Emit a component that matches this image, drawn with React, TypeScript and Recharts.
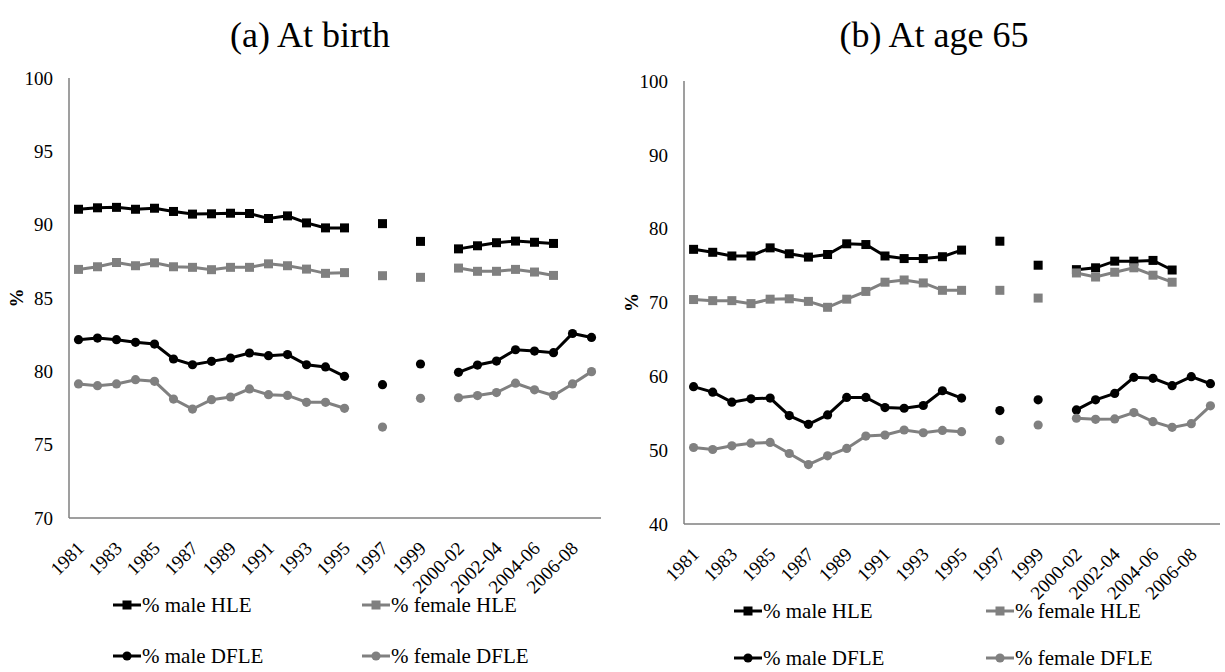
import React from "react";
import { LineChart, Line, XAxis, YAxis, Legend } from "recharts";

// category axis: 1981..1999, one unlabeled slot, then 3-year rolling periods
const years = [
  "1981", "1982", "1983", "1984", "1985", "1986", "1987", "1988", "1989", "1990",
  "1991", "1992", "1993", "1994", "1995", "1996", "1997", "1998", "1999", "",
  "2000-02", "2001-03", "2002-04", "2003-05", "2004-06", "2005-07", "2006-08", "2007-09",
];

// (a) at birth
const maleHLEBirth = [
  91.05, 91.15, 91.18, 91.05, 91.12, 90.9, 90.72, 90.74, 90.78, 90.76,
  90.42, 90.6, 90.12, 89.78, 89.78, null, 90.07, null, 88.86, null,
  88.35, 88.56, 88.77, 88.88, 88.8, 88.72, null, null,
];
const femaleHLEBirth = [
  86.95, 87.13, 87.42, 87.2, 87.4, 87.13, 87.09, 86.93, 87.09, 87.09,
  87.33, 87.2, 86.97, 86.68, 86.73, null, 86.52, null, 86.41, null,
  87.04, 86.82, 86.82, 86.95, 86.77, 86.54, null, null,
];
const maleDFLEBirth = [
  82.16, 82.27, 82.16, 81.98, 81.86, 80.84, 80.45, 80.68, 80.91, 81.25,
  81.07, 81.14, 80.45, 80.3, 79.66, null, 79.09, null, 80.5, null,
  79.93, 80.43, 80.7, 81.47, 81.38, 81.27, 82.58, 82.31,
];
const femaleDFLEBirth = [
  79.14, 79.02, 79.14, 79.43, 79.32, 78.11, 77.43, 78.07, 78.25, 78.8,
  78.41, 78.36, 77.89, 77.89, 77.48, null, 76.2, null, 78.16, null,
  78.2, 78.35, 78.55, 79.19, 78.74, 78.35, 79.14, 79.98,
];

// (b) at age 65
const maleHLE65 = [
  77.2, 76.8, 76.3, 76.3, 77.4, 76.6, 76.15, 76.5, 77.95, 77.85,
  76.3, 75.95, 75.95, 76.2, 77.1, null, 78.3, null, 75.05, null,
  74.45, 74.7, 75.6, 75.6, 75.7, 74.4, null, null,
];
const femaleHLE65 = [
  70.4, 70.25, 70.25, 69.85, 70.45, 70.5, 70.15, 69.35, 70.45, 71.5,
  72.75, 73.05, 72.65, 71.65, 71.65, null, 71.65, null, 70.6, null,
  74.0, 73.45, 74.1, 74.7, 73.7, 72.75, null, null,
];
const maleDFLE65 = [
  58.6, 57.86, 56.5, 56.95, 57.05, 54.68, 53.5, 54.77, 57.14, 57.14,
  55.77, 55.68, 56.05, 58.05, 57.05, null, 55.36, null, 56.82, null,
  55.45, 56.82, 57.68, 59.86, 59.73, 58.73, 59.95, 59.0,
];
const femaleDFLE65 = [
  50.36, 50.09, 50.59, 50.95, 51.05, 49.55, 48.05, 49.23, 50.23, 51.91,
  52.05, 52.73, 52.36, 52.68, 52.5, null, 51.32, null, 53.41, null,
  54.32, 54.18, 54.23, 55.09, 53.86, 53.09, 53.59, 56.0,
];

const birthTicks = [70, 75, 80, 85, 90, 95, 100];
const age65Ticks = [40, 50, 60, 70, 80, 90, 100];

const BLACK = "#000000";
const GREY = "#808080";
const AXIS = "#7f7f7f";
const FONT = "Liberation Serif, DejaVu Serif, serif";

const buildRows = (mh: any[], fh: any[], md: any[], fd: any[]) =>
  years.map((y, i) => ({ year: y, maleHLE: mh[i], femaleHLE: fh[i], maleDFLE: md[i], femaleDFLE: fd[i] }));

const birthData = buildRows(maleHLEBirth, femaleHLEBirth, maleDFLEBirth, femaleDFLEBirth);
const age65Data = buildRows(maleHLE65, femaleHLE65, maleDFLE65, femaleDFLE65);

const squareDot = (color: string) => (props: any) => {
  const { cx, cy, index } = props;
  if (cx == null || cy == null || props.value == null) return <g key={`s-${index}`} />;
  return <rect key={`s-${index}`} x={cx - 4.5} y={cy - 4.5} width={9} height={9} fill={color} />;
};

const circleDot = (color: string) => (props: any) => {
  const { cx, cy, index } = props;
  if (cx == null || cy == null || props.value == null) return <g key={`c-${index}`} />;
  return <circle key={`c-${index}`} cx={cx} cy={cy} r={4.6} fill={color} />;
};

const XTick = ({ x, y, payload }: any) => {
  const tx = x + 2;
  const ty = y + 19;
  return (
    <text
      x={tx}
      y={ty}
      transform={`rotate(-45, ${tx}, ${ty})`}
      textAnchor="end"
      dominantBaseline="central"
      style={{ fontFamily: FONT, fontSize: 19 }}
      fill="#000"
    >
      {payload.value}
    </text>
  );
};

const YLabel = ({ viewBox }: any) => {
  const cx = viewBox.x + 7;
  const cy = viewBox.y + viewBox.height / 2;
  return (
    <text
      x={cx}
      y={cy}
      transform={`rotate(-90, ${cx}, ${cy})`}
      textAnchor="middle"
      dominantBaseline="central"
      style={{ fontFamily: FONT, fontSize: 19, fontWeight: "bold" }}
      fill="#000"
    >
      %
    </text>
  );
};

const LegendSymbol = ({ color, shape }: { color: string; shape: "square" | "circle" }) => (
  <svg width={28} height={12} style={{ display: "block" }}>
    <line x1={0} y1={6} x2={28} y2={6} stroke={color} strokeWidth={3} />
    {shape === "square" ? (
      <rect x={9.5} y={1.5} width={9} height={9} fill={color} />
    ) : (
      <circle cx={14} cy={6} r={4.6} fill={color} />
    )}
  </svg>
);

type LegendPos = { col1: number; col2: number; row1: number; row2: number };

const makeLegend = (pos: LegendPos) => () => {
  const items = [
    { label: "% male HLE", color: BLACK, shape: "square" as const, x: pos.col1, y: pos.row1 },
    { label: "% female HLE", color: GREY, shape: "square" as const, x: pos.col2, y: pos.row1 },
    { label: "% male DFLE", color: BLACK, shape: "circle" as const, x: pos.col1, y: pos.row2 },
    { label: "% female DFLE", color: GREY, shape: "circle" as const, x: pos.col2, y: pos.row2 },
  ];
  return (
    <div style={{ position: "relative", width: 0, height: 0 }}>
      {items.map((it) => (
        <div
          key={it.label}
          style={{
            position: "absolute",
            left: it.x,
            top: it.y - 11,
            height: 22,
            lineHeight: "22px",
            display: "flex",
            alignItems: "center",
            whiteSpace: "nowrap",
            fontFamily: FONT,
            fontSize: 21,
            color: "#000",
          }}
        >
          <LegendSymbol color={it.color} shape={it.shape} />
          <span style={{ marginLeft: 1 }}>{it.label}</span>
        </div>
      ))}
    </div>
  );
};

type PanelProps = {
  data: any[];
  width: number;
  margin: { top: number; right: number; left: number; bottom: number };
  domain: [number, number];
  ticks: number[];
  pad: number;
  legend: LegendPos;
};

function Panel({ data, width, margin, domain, ticks, pad, legend }: PanelProps) {
  return (
    <LineChart width={width} height={672} data={data} margin={margin}>
      <XAxis
        dataKey="year"
        interval={1}
        tickLine={false}
        axisLine={{ stroke: AXIS, strokeWidth: 1.5 }}
        tick={<XTick />}
        height={60}
        padding={{ left: pad, right: pad }}
      />
      <YAxis
        domain={domain}
        ticks={ticks}
        width={60}
        tickLine={false}
        tickMargin={10}
        axisLine={{ stroke: AXIS, strokeWidth: 1.5 }}
        tick={{ fill: "#000", fontSize: 19, fontFamily: FONT }}
        label={<YLabel />}
      />
      <Legend
        layout="horizontal"
        verticalAlign="middle"
        align="center"
        content={makeLegend(legend)}
        wrapperStyle={{ left: 0, top: 0, width: 0, height: 0 }}
      />
      <Line
        dataKey="maleHLE"
        stroke={BLACK}
        strokeWidth={3}
        dot={squareDot(BLACK)}
        activeDot={false}
        isAnimationActive={false}
      />
      <Line
        dataKey="femaleHLE"
        stroke={GREY}
        strokeWidth={3}
        dot={squareDot(GREY)}
        activeDot={false}
        isAnimationActive={false}
      />
      <Line
        dataKey="maleDFLE"
        stroke={BLACK}
        strokeWidth={3}
        dot={circleDot(BLACK)}
        activeDot={false}
        isAnimationActive={false}
      />
      <Line
        dataKey="femaleDFLE"
        stroke={GREY}
        strokeWidth={3}
        dot={circleDot(GREY)}
        activeDot={false}
        isAnimationActive={false}
      />
    </LineChart>
  );
}

const titleStyle: React.CSSProperties = {
  position: "absolute",
  top: 14,
  fontFamily: FONT,
  fontSize: 36,
  color: "#000",
  whiteSpace: "nowrap",
  transform: "translateX(-50%)",
};

export default function App() {
  return (
    <div style={{ position: "absolute", left: 0, top: 0, width: 1225, height: 672, background: "#fff", overflow: "hidden" }}>
      <div style={{ ...titleStyle, left: 310 }}>(a) At birth</div>
      <div style={{ ...titleStyle, left: 934 }}>(b) At age 65</div>
      <div style={{ position: "absolute", left: 0, top: 0 }}>
        <Panel
          data={birthData}
          width={615}
          margin={{ top: 78, right: 14, left: 9, bottom: 94 }}
          domain={[70, 100]}
          ticks={birthTicks}
          pad={9.5}
          legend={{ col1: 113, col2: 362, row1: 605, row2: 656 }}
        />
      </div>
      <div style={{ position: "absolute", left: 610, top: 0 }}>
        <Panel
          data={age65Data}
          width={615}
          margin={{ top: 81, right: 5, left: 14, bottom: 88 }}
          domain={[40, 100]}
          ticks={age65Ticks}
          pad={9.57}
          legend={{ col1: 124, col2: 376, row1: 611, row2: 658 }}
        />
      </div>
    </div>
  );
}
